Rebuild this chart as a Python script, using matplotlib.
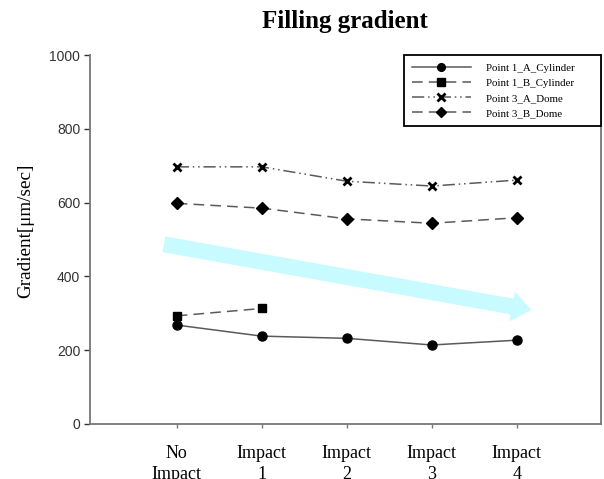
import matplotlib
matplotlib.use("Agg")
import matplotlib.pyplot as plt
from matplotlib.patches import FancyArrowPatch

# categories on the x axis
stages = ["No\nImpact", "Impact\n1", "Impact\n2", "Impact\n3", "Impact\n4"]

# gradient values (um/sec)
p1_a_cyl = [268, 238, 232, 214, 227]
p1_b_cyl = [293, 313]
p3_a_dome = [697, 697, 658, 645, 661]
p3_b_dome = [598, 585, 556, 544, 559]

# trend arrow ends, in data units
arrow_from = (-0.15, 487)
arrow_to = (4.17, 309)

serif = "Liberation Serif"
line_col = "#5a5a5a"

fig = plt.figure(figsize=(6.04, 4.79), dpi=100)
ax = fig.add_axes([0.149, 0.115, 0.846, 0.770])

xs = list(range(len(stages)))

ax.plot(xs, p1_a_cyl, color=line_col, lw=1.1, ls="-", marker="o",
        ms=6.5, mfc="black", mec="black", label="Point 1_A_Cylinder")
ax.plot(xs[:len(p1_b_cyl)], p1_b_cyl, color=line_col, lw=1.1,
        ls=(0, (7, 4)), marker="s", ms=6, mfc="black", mec="black",
        label="Point 1_B_Cylinder")
ax.plot(xs, p3_a_dome, color=line_col, lw=1.1, ls=(0, (8, 2.5, 1, 2.5, 1, 2.5)),
        marker="x", ms=6, mew=2, mfc="black", mec="black",
        label="Point 3_A_Dome")
ax.plot(xs, p3_b_dome, color=line_col, lw=1.1, ls=(0, (7, 4)), marker="D",
        ms=6, mfc="black", mec="black", label="Point 3_B_Dome")

# big pale cyan arrow showing the trend
arr = FancyArrowPatch(arrow_from, arrow_to,
                      arrowstyle="simple,head_length=14,head_width=22,tail_width=11.5",
                      mutation_scale=1, shrinkA=0, shrinkB=0,
                      color="#c8fbff", lw=0, zorder=1)
ax.add_patch(arr)

ax.set_xlim(-1.02, 4.99)
ax.set_ylim(0, 1000)
ax.set_xticks(xs)
ax.set_xticklabels(stages, fontfamily=serif, fontsize=13, linespacing=1.3)
ax.set_yticks([0, 200, 400, 600, 800, 1000])
ax.tick_params(axis="y", labelsize=10, colors="#333333", length=4, width=1,
               pad=3)
ax.tick_params(axis="x", length=3, width=1, colors="#777777", pad=12,
               labelcolor="black")
for lab in ax.get_yticklabels():
    lab.set_fontfamily("Liberation Sans")

ax.spines["top"].set_visible(False)
for s in ["left", "bottom", "right"]:
    ax.spines[s].set_color("#777777")
    ax.spines[s].set_linewidth(1.3)

ax.set_ylabel("Gradient[\u03bcm/sec]", fontfamily=serif, fontsize=13.8)
ax.yaxis.set_label_coords(-0.11, 0.523)

fig.text(0.571, 0.956, "Filling gradient", fontfamily=serif, fontsize=18,
         fontweight="bold", ha="center", va="center")

leg = ax.legend(loc="upper right", bbox_to_anchor=(0.6145, 0.0, 0.3855, 1.0),
                mode="expand", borderaxespad=0, fancybox=False,
                prop={"family": serif, "size": 7.8}, handlelength=5.4,
                handletextpad=1.4, labelspacing=0.5, borderpad=0.75,
                markerscale=0.85, framealpha=1)
leg.get_frame().set_edgecolor("black")
leg.get_frame().set_linewidth(1.3)

fig.savefig("out.png", dpi=100)
